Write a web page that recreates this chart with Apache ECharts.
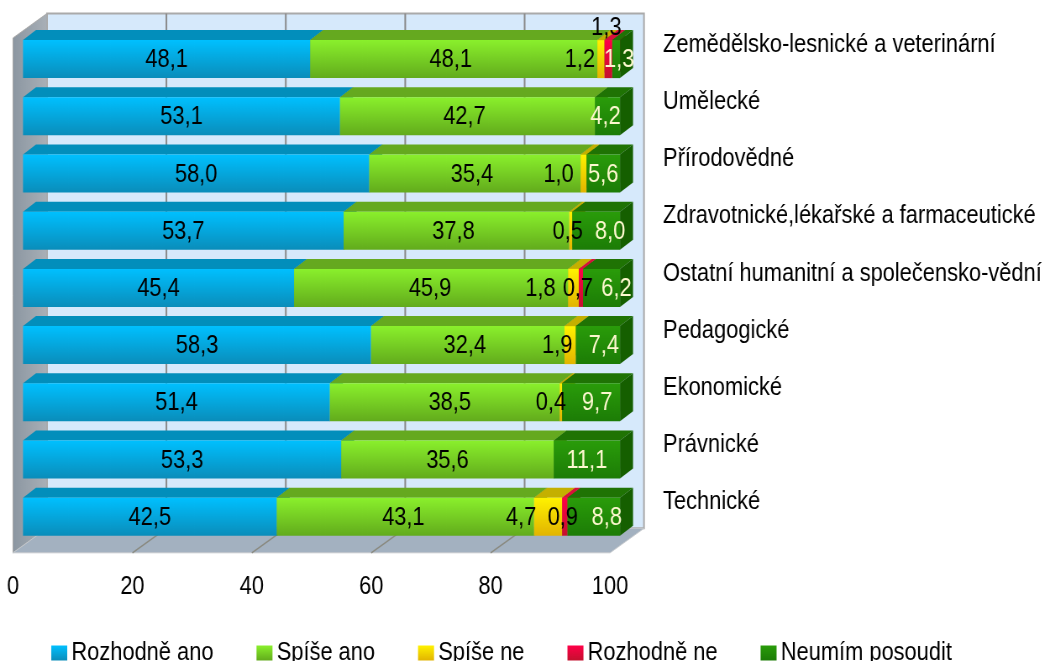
<!DOCTYPE html>
<html><head><meta charset="utf-8">
<style>html,body{margin:0;padding:0;background:#fff;overflow:hidden;width:1044px;height:661px}
/* the reference is horizontally condensed: the whole drawing surface is narrowed by the same factor */
#c{width:1243px;height:661px;transform:scaleX(0.84);transform-origin:0 0}</style>
<script src="https://cdn.jsdelivr.net/npm/echarts@6/dist/echarts.min.js"></script>
</head><body><div id="c"></div>
<script>
const categories = ["Zemědělsko-lesnické a veterinární","Umělecké","Přírodovědné","Zdravotnické,lékařské a farmaceutické","Ostatní humanitní a společensko-vědní","Pedagogické","Ekonomické","Právnické","Technické"];
const rozhodneAno = [48.1,53.1,58.0,53.7,45.4,58.3,51.4,53.3,42.5];
const spiseAno    = [48.1,42.7,35.4,37.8,45.9,32.4,38.5,35.6,43.1];
const spiseNe     = [1.2,0,1.0,0.5,1.8,1.9,0.4,0,4.7];
const rozhodneNe  = [1.3,0,0,0,0.7,0,0,0,0.9];
const neumim      = [1.3,4.2,5.6,8.0,6.2,7.4,9.7,11.1,8.8];
const seriesNames = ["Rozhodně ano","Spíše ano","Spíše ne","Rozhodně ne","Neumím posoudit"];

// hand-placed label nudges of the original (px), per series, per row
const nudgeX = [
  [0,0,0,0,0,0,0,0,0],
  [-3,-3,-3,-3,-1,-3,5,0,-2],
  [-21,0,-25,-3,-33,-13,-10,0,-27],
  [-2,0,0,0,-3,0,0,0,-2],
  [3,-2,0,14,15,6,6,0,13]
];
const nudgeY = [[0,0,0,0,0,0,0,0,0],[0,0,0,0,0,0,0,0,0],[0,0,0,0,0,0,0,0,0],[-32,0,0,0,0,0,0,0,0],[0,0,0,0,0,0,0,0,0]];

const allValues = [rozhodneAno,spiseAno,spiseNe,rozhodneNe,neumim];
const SX = 0.84, X = v=>v/SX;
const FONT = '"Liberation Sans",Arial,sans-serif';
const FS = 26;
const grad = (a,b)=>({type:'linear',x:0,y:0,x2:0,y2:1,colorStops:[{offset:0,color:a},{offset:1,color:b}]});
const palette = [
  {front:grad('#00c0ff','#0a8dba'),top:'#028ebb',side:'#026f93',label:'#000'},
  {front:grad('#8af02c','#62ab1c'),top:'#65a91f',side:'#4f8a15',label:'#000'},
  {front:grad('#fff200','#e2b400'),top:'#c4b000',side:'#a89200',label:'#000'},
  {front:grad('#ff0048','#c4102e'),top:'#d8103c',side:'#a80c2c',label:'#000'},
  {front:grad('#2a9c0a','#1c7c06'),top:'#1f7304',side:'#155f00',label:'#fdf8cf'}
];
// depth of the 3D box and the slab of the bars inside it
const BOX = {x:X(34),y:-24.5}, NEAR = {x:X(10),y:-7.5}, FAR = {x:X(23),y:-17.5};

function renderSegment(si){
  return function(params,api){
    const row = api.value(0), a = api.value(1), b = api.value(2), val = api.value(3);
    if(!val) return null;
    const c0 = api.coord([a,row]), c1 = api.coord([b,row]);
    const band = api.size([0,1])[1], h = band*0.665;
    const t = c0[1]-h/2+NEAR.y, bt = c0[1]+h/2+NEAR.y;
    const x0 = c0[0]+NEAR.x, x1 = c1[0]+NEAR.x;
    const dx = FAR.x-NEAR.x, dy = FAR.y-NEAR.y;
    const col = palette[si];
    const kids = [
      {type:'polygon',shape:{points:[[x0,t],[x1,t],[x1+dx,t+dy],[x0+dx,t+dy]]},style:{fill:col.top}},
      {type:'polygon',shape:{points:[[x1,t],[x1+dx,t+dy],[x1+dx,bt+dy],[x1,bt]]},style:{fill:col.side}},
      {type:'rect',shape:{x:x0,y:t,width:x1-x0,height:bt-t},style:{fill:col.front}},
      {type:'text',z2:100,style:{x:(x0+x1)/2+X(nudgeX[si][row]),y:(t+bt)/2+1+nudgeY[si][row],
        text:val.toFixed(1).replace('.',','),align:'center',verticalAlign:'middle',
        font:FS+'px '+FONT,fill:col.label}}
    ];
    return {type:'group',children:kids};
  };
}
function boxCorners(api){
  const band = api.size([0,1])[1];
  const L = api.coord([0,0])[0], R = api.coord([100,0])[0];
  const T = api.coord([0,0])[1]-band/2, B = api.coord([0,categories.length-1])[1]+band/2;
  return {L,R,T,B};
}
function renderBox(params,api){
  const {L,R,T,B} = boxCorners(api), dx=BOX.x, dy=BOX.y;
  return {type:'group',children:[
    {type:'polygon',shape:{points:[[L+dx,T+dy],[R+dx,T+dy],[R+dx,B+dy],[L+dx,B+dy]]},style:{fill:'#d6e9fb',stroke:'#aaaaaa',lineWidth:2}},
    {type:'polygon',shape:{points:[[L,T],[L+dx,T+dy],[L+dx,B+dy],[L,B]]},
      style:{fill:{type:'linear',x:0,y:0,x2:1,y2:0,colorStops:[{offset:0,color:'#8b96a1'},{offset:1,color:'#a9b0b7'}]},stroke:'#a8a8a8',lineWidth:1}},
    {type:'polygon',shape:{points:[[L,B],[R,B],[R+dx,B+dy],[L+dx,B+dy]]},style:{fill:'#a3b1c0',stroke:'#c4c8cc',lineWidth:1}}
  ]};
}
function renderGridLine(params,api){
  const v = api.value(0);
  if(v===0||v===100) return null;
  const {T,B} = boxCorners(api), x = api.coord([v,0])[0], dx=BOX.x, dy=BOX.y;
  return {type:'group',children:[
    {type:'line',shape:{x1:x+dx,y1:T+dy,x2:x+dx,y2:B+dy},style:{stroke:'#8a8a8a',lineWidth:2}},
    {type:'line',shape:{x1:x,y1:B,x2:x+dx,y2:B+dy},style:{stroke:'#8a8a80',lineWidth:1.5}}
  ]};
}
const ticks = [0,20,40,60,80,100];
const segSeries = allValues.map((vals,si)=>{
  const data = vals.map((v,row)=>{
    let s=0; for(let k=0;k<si;k++) s+=allValues[k][row];
    return [row,s,s+v,v];
  });
  return {name:seriesNames[si],type:'custom',xAxisIndex:0,yAxisIndex:0,clip:false,silent:true,
    encode:{x:[1,2],y:0},data,renderItem:renderSegment(si),
    itemStyle:{color:palette[si].front}};
});
const chart = echarts.init(document.getElementById('c'),null,{renderer:'canvas',devicePixelRatio:1});
chart.setOption({
  animation:false,
  backgroundColor:'#fff',
  textStyle:{fontFamily:FONT},
  grid:[
    {left:X(13),width:X(597),top:38,height:514.8,outerBoundsMode:'none'},
    {left:X(47),width:X(597),top:16,height:514.8,outerBoundsMode:'none'}
  ],
  xAxis:[
    {type:'value',gridIndex:0,min:0,max:100,interval:20,axisLine:{show:false},axisTick:{show:false},splitLine:{show:false},
      axisLabel:{fontSize:FS,color:'#000',fontFamily:FONT,margin:21}},
    {type:'value',gridIndex:1,min:0,max:100,show:false,splitLine:{show:false}}
  ],
  yAxis:[
    {type:'category',gridIndex:0,inverse:true,data:categories,show:false},
    {type:'category',gridIndex:1,inverse:true,data:categories,position:'right',axisLine:{show:false},axisTick:{show:false},
      splitLine:{show:false},axisLabel:{fontSize:FS,color:'#000',fontFamily:FONT,margin:X(19),align:'left',interval:0,hideOverlap:false}}
  ],
  legend:{show:true,data:seriesNames,left:X(47),top:635,itemWidth:X(16),itemHeight:15,itemGap:X(43),icon:'rect',
    textStyle:{fontSize:FS,color:'#000',fontFamily:FONT},selectedMode:false},
  series:[
    {type:'custom',name:'_box',xAxisIndex:0,yAxisIndex:0,clip:false,silent:true,encode:{x:0},data:[[0]],renderItem:renderBox},
    {type:'custom',name:'_grid',xAxisIndex:0,yAxisIndex:0,clip:false,silent:true,encode:{x:0},data:ticks.map(t=>[t]),renderItem:renderGridLine},
    ...segSeries
  ]
});
</script></body></html>
